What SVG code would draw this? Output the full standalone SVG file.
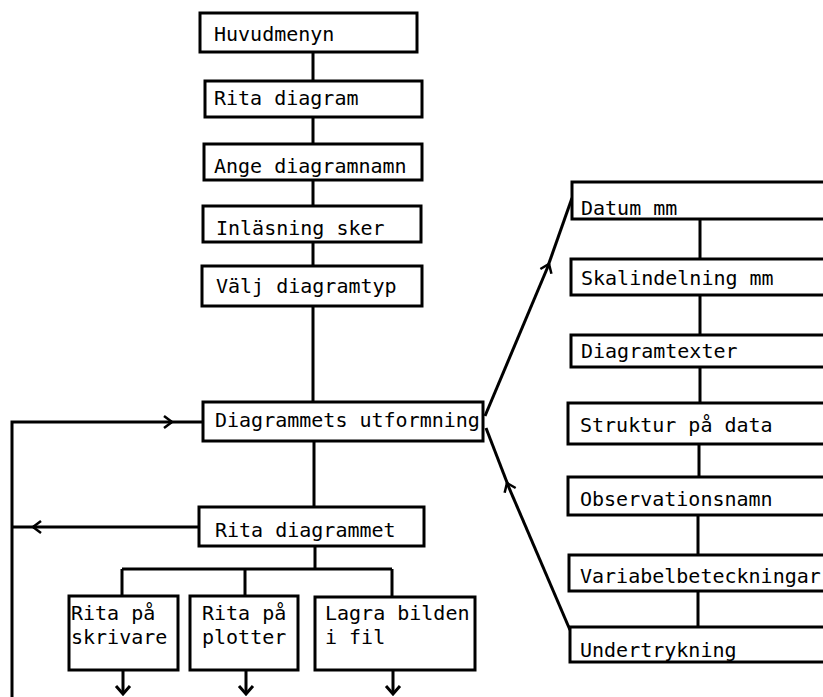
<svg xmlns="http://www.w3.org/2000/svg" width="823" height="697" viewBox="0 0 823 697">
<style>
.box{fill:#fff;stroke:#000;stroke-width:3}
.t{font-family:"DejaVu Sans Mono",monospace;font-size:20px;fill:#000}
.c{fill:none;stroke:#000;stroke-width:3}
</style>
<defs>
<marker id="chev" markerWidth="14" markerHeight="14" refX="10" refY="7" orient="auto" markerUnits="userSpaceOnUse">
<path d="M2,1 L10,7 L2,13" fill="none" stroke="#000" stroke-width="2.5"/>
</marker>
</defs>
<rect width="823" height="697" fill="#fff"/>
<g id="connectors">
<path class="c" d="M313,52 V81 M313,117 V144 M313,180 V206 M313,242 V266 M313,306 V402 M314,441 V507 M315,546 V569 M122,569 H392 M122,569 V596 M245,569 V596 M392,569 V597"/>
<path class="c" d="M700,219 V259 M700,295 V335 M700,367 V403 M699,444 V477 M698,515 V555 M698,591 V627"/>
<path class="c" d="M12,697 V422 H172" marker-end="url(#chev)"/>
<path class="c" d="M170,422 H203"/>
<path class="c" d="M199,527 H33" marker-end="url(#chev)"/>
<path class="c" d="M35,527 H12"/>
<path class="c" d="M485,416 L549,264" marker-end="url(#chev)"/>
<path class="c" d="M548,266 L572,198"/>
<path class="c" d="M570,630 L507,483" marker-end="url(#chev)"/>
<path class="c" d="M508,485 L486,428"/>
<path class="c" d="M123,670 V694 M246,670 V694 M393,671 V694"/>
<path d="M116,686 L123,694 L130,686 M239,686 L246,694 L253,686 M386,686 L393,694 L400,686" fill="none" stroke="#000" stroke-width="3"/>
</g>
<g id="n1"><rect class="box" x="200" y="13" width="217" height="39"/><text class="t" x="214" y="41">Huvudmenyn</text></g>
<g id="n2"><rect class="box" x="205" y="81" width="217" height="36"/><text class="t" x="214" y="105">Rita diagram</text></g>
<g id="n3"><rect class="box" x="204" y="144" width="218" height="36"/><text class="t" x="214" y="173">Ange diagramnamn</text></g>
<g id="n4"><rect class="box" x="203" y="206" width="218" height="36"/><text class="t" x="216" y="235">Inläsning sker</text></g>
<g id="n5"><rect class="box" x="202" y="266" width="220" height="40"/><text class="t" x="216" y="293">Välj diagramtyp</text></g>
<g id="n6"><rect class="box" x="203" y="402" width="280" height="39"/><text class="t" x="215" y="427">Diagrammets utformning</text></g>
<g id="n7"><rect class="box" x="199" y="507" width="225" height="39"/><text class="t" x="215" y="537">Rita diagrammet</text></g>
<g id="n8"><rect class="box" x="69" y="596" width="109" height="74"/><text class="t" x="71" y="620">Rita på</text><text class="t" x="71" y="644">skrivare</text></g>
<g id="n9"><rect class="box" x="190" y="596" width="108" height="74"/><text class="t" x="202" y="620">Rita på</text><text class="t" x="202" y="644">plotter</text></g>
<g id="n10"><rect class="box" x="315" y="597" width="160" height="73"/><text class="t" x="325" y="620">Lagra bilden</text><text class="t" x="325" y="644">i fil</text></g>
<g id="r1"><rect class="box" x="572" y="182" width="260" height="37"/><text class="t" x="581" y="215">Datum mm</text></g>
<g id="r2"><rect class="box" x="571" y="259" width="260" height="36"/><text class="t" x="581" y="285">Skalindelning mm</text></g>
<g id="r3"><rect class="box" x="571" y="335" width="260" height="32"/><text class="t" x="581" y="358">Diagramtexter</text></g>
<g id="r4"><rect class="box" x="568" y="403" width="262" height="41"/><text class="t" x="580" y="432">Struktur på data</text></g>
<g id="r5"><rect class="box" x="568" y="477" width="262" height="38"/><text class="t" x="580" y="506">Observationsnamn</text></g>
<g id="r6"><rect class="box" x="569" y="555" width="262" height="36"/><text class="t" x="580" y="583">Variabelbeteckningar</text></g>
<g id="r7"><rect class="box" x="570" y="627" width="262" height="35"/><text class="t" x="580" y="657">Undertrykning</text></g>
</svg>
